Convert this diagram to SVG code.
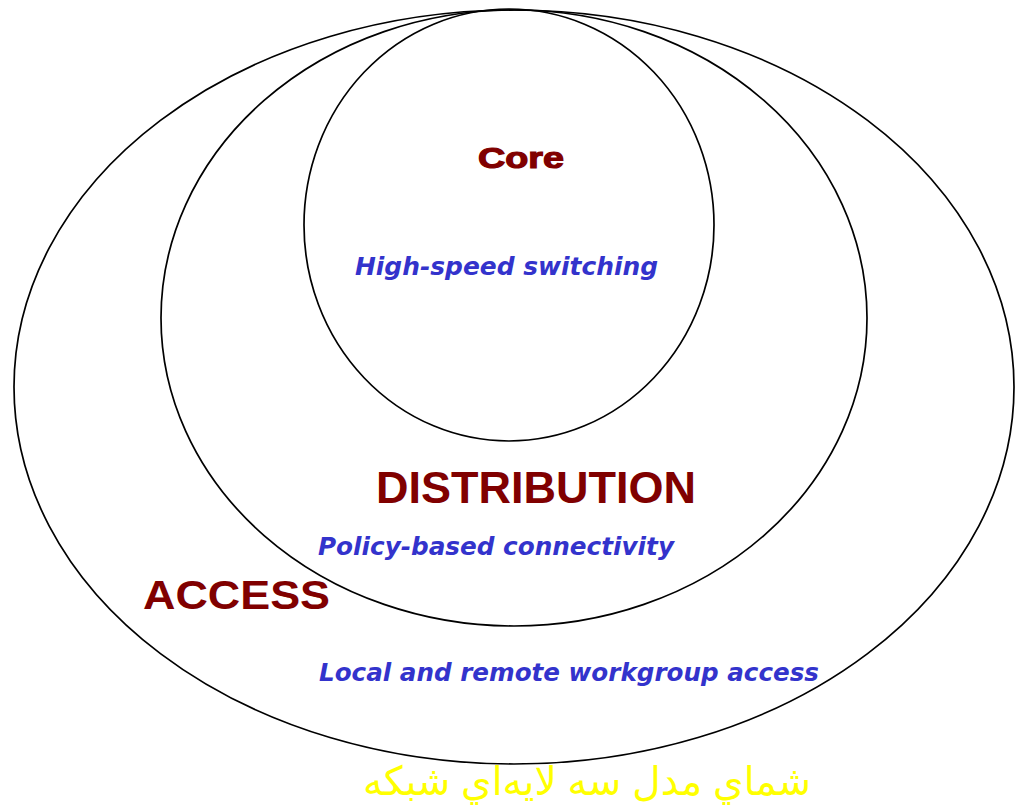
<svg xmlns="http://www.w3.org/2000/svg" width="1015" height="811" viewBox="0 0 1015 811">
  <style>
    .ring { fill: none; stroke: #000; stroke-width: 1.7; }
    .title { font-family: "Liberation Sans", Arial, sans-serif; font-weight: bold; fill: #800000; }
    .desc { font-family: "DejaVu Sans", Verdana, sans-serif; font-weight: bold; font-style: italic; fill: #3333cc; }
    .caption { font-family: "Liberation Sans", "DejaVu Sans", "Noto Sans", sans-serif; fill: #ffff00; }
  </style>
  <rect width="1015" height="811" fill="#ffffff"/>
  <g id="access">
    <ellipse class="ring" cx="514" cy="387" rx="500" ry="377"/>
    <text class="title" x="143" y="609" font-size="41" textLength="187" lengthAdjust="spacingAndGlyphs">ACCESS</text>
    <text class="desc" x="319" y="681" font-size="25" textLength="500" lengthAdjust="spacingAndGlyphs">Local and remote workgroup access</text>
  </g>
  <g id="distribution">
    <ellipse class="ring" cx="514" cy="318" rx="353" ry="308"/>
    <text class="title" x="376" y="503" font-size="44" textLength="320" lengthAdjust="spacingAndGlyphs">DISTRIBUTION</text>
    <text class="desc" x="318" y="555" font-size="25" textLength="356" lengthAdjust="spacingAndGlyphs">Policy-based connectivity</text>
  </g>
  <g id="core">
    <ellipse class="ring" cx="509" cy="225" rx="205" ry="216"/>
    <text class="title" x="478" y="168" font-size="30" textLength="86" lengthAdjust="spacingAndGlyphs" stroke="#800000" stroke-width="1.2">Core</text>
    <text class="desc" x="355" y="275" font-size="25" textLength="303" lengthAdjust="spacingAndGlyphs">High-speed switching</text>
  </g>
  <g id="caption">
    <text class="caption" x="811" y="795" font-size="40" direction="rtl" text-anchor="start" textLength="448" lengthAdjust="spacingAndGlyphs">شماي مدل سه لايه‌اي شبكه</text>
  </g>
</svg>
